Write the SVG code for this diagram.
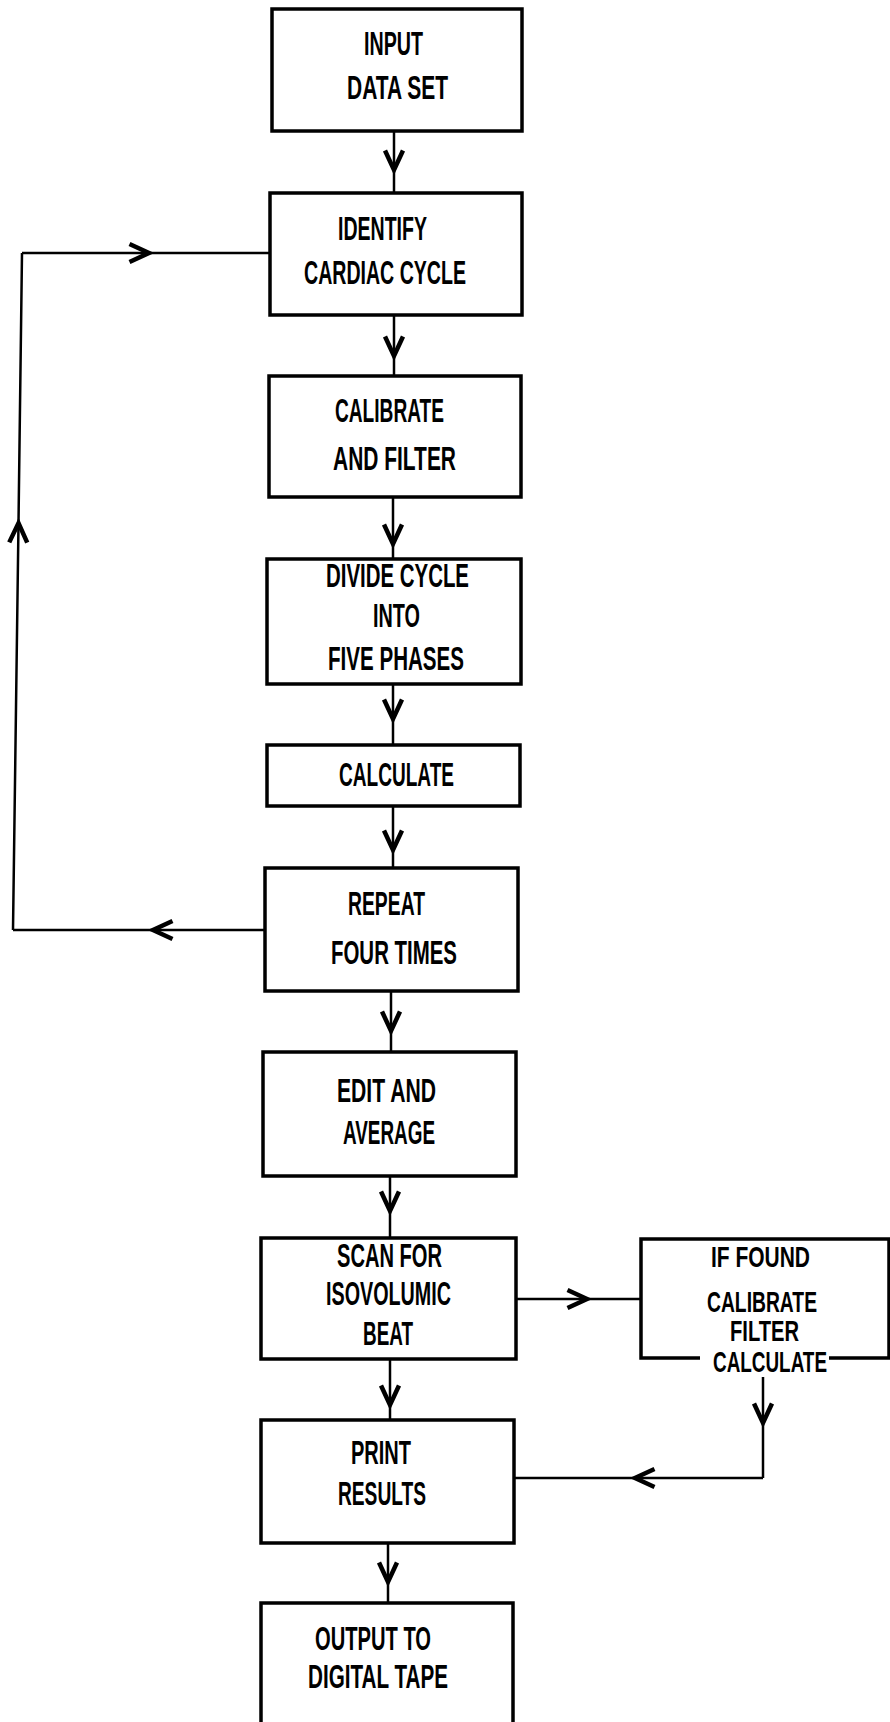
<svg xmlns="http://www.w3.org/2000/svg" width="890" height="1722" viewBox="0 0 890 1722">
<style>
.box{fill:none;stroke:#000;stroke-width:3.5;stroke-linejoin:miter}
.ln{fill:none;stroke:#000;stroke-width:2.5}
.t{font-family:"Liberation Sans",Arial,sans-serif;font-weight:bold;font-size:33px;fill:#000}
.s{font-size:30px}
</style>
<defs>
<marker id="chev" markerUnits="userSpaceOnUse" markerWidth="30" markerHeight="30" viewBox="-16 -10 20 20" refX="0" refY="0" orient="auto" overflow="visible">
<path d="M-13,-6 L0,0 L-13,6" fill="none" stroke="#000" stroke-width="3" stroke-linejoin="miter"/>
</marker>
</defs>
<rect width="890" height="1722" fill="#fff"/>

<g id="connectors">
<polyline class="ln" points="394,131 394,170 394,193" marker-mid="url(#chev)"/>
<polyline class="ln" points="394,315 394,356 394,376" marker-mid="url(#chev)"/>
<polyline class="ln" points="393,497 393,544 393,559" marker-mid="url(#chev)"/>
<polyline class="ln" points="393,684 393,719 393,745" marker-mid="url(#chev)"/>
<polyline class="ln" points="393,806 393,850 393,868" marker-mid="url(#chev)"/>
<polyline class="ln" points="391,991 391,1031 391,1052" marker-mid="url(#chev)"/>
<polyline class="ln" points="390,1176 390,1211 390,1238" marker-mid="url(#chev)"/>
<polyline class="ln" points="390,1359 390,1405 390,1420" marker-mid="url(#chev)"/>
<polyline class="ln" points="388,1543 388,1582 388,1603" marker-mid="url(#chev)"/>
<polyline class="ln" points="516,1299 587,1299 641,1299" marker-mid="url(#chev)"/>
<polyline class="ln" points="763,1377 763,1423 763,1478" marker-mid="url(#chev)"/>
<polyline class="ln" points="763,1478 635,1478 515,1478" marker-mid="url(#chev)"/>
<polyline class="ln" points="265,930 153,930 13,930" marker-mid="url(#chev)" stroke-width="3"/>
<polyline class="ln" points="13,930 18.5,523 22,253" marker-mid="url(#chev)" stroke-width="3"/>
<polyline class="ln" points="22,253 149,253 270,253" marker-mid="url(#chev)" stroke-width="3"/>
</g>

<g id="input">
<rect class="box" x="272" y="9" width="250" height="122"/>
<text class="t" x="364" y="55" textLength="59" lengthAdjust="spacingAndGlyphs">INPUT</text>
<text class="t" x="347" y="99" textLength="101" lengthAdjust="spacingAndGlyphs">DATA SET</text>
</g>

<g id="identify">
<rect class="box" x="270" y="193" width="252" height="122"/>
<text class="t" x="338" y="240" textLength="89" lengthAdjust="spacingAndGlyphs">IDENTIFY</text>
<text class="t" x="304" y="284" textLength="162" lengthAdjust="spacingAndGlyphs">CARDIAC CYCLE</text>
</g>

<g id="calibrate">
<rect class="box" x="269" y="376" width="252" height="121"/>
<text class="t" x="335" y="422" textLength="109" lengthAdjust="spacingAndGlyphs">CALIBRATE</text>
<text class="t" x="333" y="470" textLength="123" lengthAdjust="spacingAndGlyphs">AND FILTER</text>
</g>

<g id="divide">
<rect class="box" x="267" y="559" width="254" height="125"/>
<text class="t" x="326" y="587" textLength="143" lengthAdjust="spacingAndGlyphs">DIVIDE CYCLE</text>
<text class="t" x="373" y="627" textLength="47" lengthAdjust="spacingAndGlyphs">INTO</text>
<text class="t" x="328" y="670" textLength="136" lengthAdjust="spacingAndGlyphs">FIVE PHASES</text>
</g>

<g id="calculate">
<rect class="box" x="267" y="745" width="253" height="61"/>
<text class="t" x="339" y="786" textLength="115" lengthAdjust="spacingAndGlyphs">CALCULATE</text>
</g>

<g id="repeat">
<rect class="box" x="265" y="868" width="253" height="123"/>
<text class="t" x="348" y="915" textLength="77" lengthAdjust="spacingAndGlyphs">REPEAT</text>
<text class="t" x="331" y="964" textLength="126" lengthAdjust="spacingAndGlyphs">FOUR TIMES</text>
</g>

<g id="edit">
<rect class="box" x="263" y="1052" width="253" height="124"/>
<text class="t" x="337" y="1102" textLength="99" lengthAdjust="spacingAndGlyphs">EDIT AND</text>
<text class="t" x="343" y="1144" textLength="92" lengthAdjust="spacingAndGlyphs">AVERAGE</text>
</g>

<g id="scan">
<rect class="box" x="261" y="1238" width="255" height="121"/>
<text class="t" x="337" y="1267" textLength="105" lengthAdjust="spacingAndGlyphs">SCAN FOR</text>
<text class="t" x="326" y="1305" textLength="125" lengthAdjust="spacingAndGlyphs">ISOVOLUMIC</text>
<text class="t" x="363" y="1345" textLength="50" lengthAdjust="spacingAndGlyphs">BEAT</text>
</g>

<g id="iffound">
<path class="box" d="M700,1358 L641,1358 L641,1239 L889,1239 L889,1358 L829,1358"/>
<text class="t s" x="711" y="1267" textLength="99" lengthAdjust="spacingAndGlyphs">IF FOUND</text>
<text class="t s" x="707" y="1312" textLength="110" lengthAdjust="spacingAndGlyphs">CALIBRATE</text>
<text class="t s" x="730" y="1341" textLength="69" lengthAdjust="spacingAndGlyphs">FILTER</text>
<text class="t s" x="713" y="1372" textLength="114" lengthAdjust="spacingAndGlyphs">CALCULATE</text>
</g>

<g id="print">
<rect class="box" x="261" y="1420" width="253" height="123"/>
<text class="t" x="351" y="1464" textLength="60" lengthAdjust="spacingAndGlyphs">PRINT</text>
<text class="t" x="338" y="1505" textLength="88" lengthAdjust="spacingAndGlyphs">RESULTS</text>
</g>

<g id="output">
<path class="box" d="M261,1724 L261,1603 L513,1603 L513,1724"/>
<text class="t" x="315" y="1650" textLength="116" lengthAdjust="spacingAndGlyphs">OUTPUT TO</text>
<text class="t" x="308" y="1688" textLength="140" lengthAdjust="spacingAndGlyphs">DIGITAL TAPE</text>
</g>
</svg>
